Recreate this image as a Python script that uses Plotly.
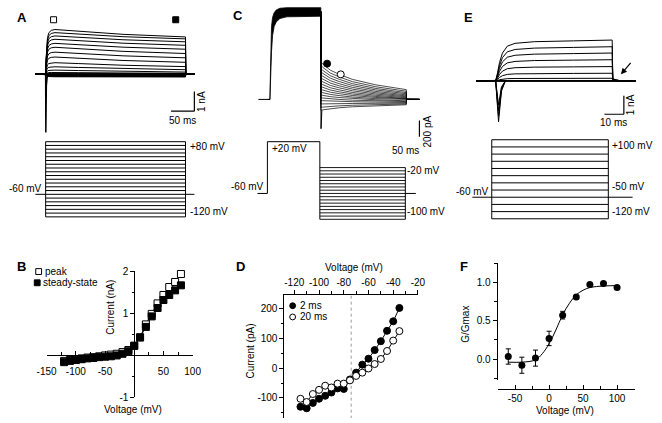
import plotly.graph_objects as go

W, H = 662, 423
FONT = "Liberation Sans, Arial, sans-serif"

# ---------------- A: current family, steps +80 ... -120 mV from -60 mV
a_steps_mv = list(range(80, -121, -10))
a_peak_na = [2.28, 2.12, 1.95, 1.78, 1.57, 1.37, 1.12, 0.87, 0.58, 0.37, 0.2,
             0.08, 0.03, 0.0, -0.02, -0.04, -0.06, -0.08, -0.1, -0.12, -0.14]
a_end_na = [1.9, 1.8, 1.65, 1.47, 1.27, 1.05, 0.83, 0.6, 0.38, 0.22, 0.1,
            0.04, 0.01, -0.01, -0.03, -0.05, -0.07, -0.09, -0.11, -0.13, -0.15]
a_rise_ms = [0, 1, 2, 4, 7, 12, 20]
a_rise_frac = [0, 0.35, 0.6, 0.82, 0.93, 0.98, 1.0]
a_decay_ms = [70, 166, 300]
a_decay_frac = [0.22, 0.65, 1.0]
a_spike_na = -3.0
a_step_ms = 300
a_span_ms = [-22, 319]
a_hold_mv = -60
a_mark_ms = [17, 279]
a_mark_na = 2.78

# ---------------- C: prepulse to +20 mV, tails -20 ... -100 mV
c_tail_mv = list(range(-20, -101, -5))
c_pre_ms = 100
c_tail_ms = 163
c_band_ms = [0, 3, 4, 5, 6, 8, 11, 15, 22, 35, 60, 100]
c_band_top_pa = [0, 0, 250, 500, 640, 720, 760, 785, 800, 805, 805, 805]
c_band_bot_pa = [0, 0, 60, 250, 420, 560, 640, 680, 710, 725, 730, 730]
c_plateau_pa = 770
c_tail_start_pa = [330, 300, 272, 245, 218, 192, 166, 140, 115, 90, 65, 40, 15,
                   -10, -40, -70, -95]
c_tail_end_pa = [86, 72, 60, 50, 40, 31, 23, 15, 8, 2, -5, -12, -19, -26, -33,
                 -40, -47]
c_decay_ms = [0, 3, 8, 18, 35, 60, 105, 163]
c_decay_frac = [1, 0.93, 0.85, 0.7, 0.55, 0.37, 0.17, 0]
c_spike_pa = -257
c_span_ms = [-19, 288]
c_pre_mv = 20
c_hold_mv = -60
c_mark_ms = [112, 138]
c_mark_pa = [314, 220]

# ---------------- E: steps +100 ... -120 mV (20 mV)
e_steps_mv = list(range(100, -121, -20))
e_amp_na = [2.2, 1.84, 1.5, 1.14, 0.77, 0.41, 0.14, 0.03, 0.0, -0.02, -0.03, -0.04]
e_tail_na = [0.12, 0.1, 0.08, 0.06, 0.04, 0.02, 0, 0, 0, 0, 0, 0]
e_rise_ms = [0, 1, 2, 3.5, 6, 10, 20, 40, 60]
e_rise_frac = [0, 0.2, 0.45, 0.68, 0.85, 0.92, 0.96, 0.98, 1.0]
e_spike_na = [-2.2, -1.9, -1.6, -1.3]
e_step_ms = 60
e_span_ms = [-10, 72]
e_hold_mv = -60

# ---------------- B: I-V, peak and steady-state
b_mv = list(range(-120, 81, 10))
b_peak_na = [-0.14, -0.12, -0.1, -0.08, -0.06, -0.05, -0.03, -0.01, 0.01, 0.03,
             0.07, 0.12, 0.22, 0.42, 0.73, 0.98, 1.23, 1.43, 1.62, 1.74, 1.93]
b_ss_na = [-0.17, -0.14, -0.12, -0.1, -0.08, -0.07, -0.05, -0.04, -0.03, -0.01,
           0.03, 0.09, 0.22, 0.42, 0.67, 0.92, 1.12, 1.31, 1.43, 1.54, 1.66]

# ---------------- D: tail I-V at 2 ms and 20 ms
d_mv = list(range(-115, -34, 5))
d_2ms_pa = [-130, -135, -117, -103, -93, -82, -68, -70, -38, -15, 12, 32, 61,
            91, 126, 158, 203]
d_20ms_pa = [-103, -114, -87, -73, -59, -65, -52, -52, -41, -26, -15, -1, 14,
             31, 58, 93, 125]
d_rev_mv = -74

# ---------------- F: conductance-voltage
f_mv = [-60, -40, -20, 0, 20, 40, 60, 80, 100]
f_g = [0.034, -0.08, 0.013, 0.27, 0.574, 0.81, 0.974, 0.987, 0.936]
f_err = [0.10, 0.105, 0.105, 0.094, 0.05, 0.02, 0.01, 0.01, 0.01]
f_fit_mv = [-60, -40, -20, -10, 0, 10, 20, 30, 40, 50, 60, 80, 100]
f_fit_g = [-0.04, -0.04, -0.01, 0.07, 0.2, 0.38, 0.58, 0.73, 0.84, 0.9, 0.935,
           0.955, 0.96]


def refs(n):
    s = "" if n == 1 else str(n)
    return "x" + s, "y" + s, "xaxis" + s, "yaxis" + s


fig = go.Figure()


def line(n, xs, ys, width=1.0, **kw):
    xr, yr, _, _ = refs(n)
    fig.add_trace(go.Scatter(x=xs, y=ys, xaxis=xr, yaxis=yr, mode="lines",
                             line=dict(color="black", width=width),
                             hoverinfo="skip", showlegend=False, **kw))


def markers(n, xs, ys, symbol, fill, size):
    xr, yr, _, _ = refs(n)
    fig.add_trace(go.Scatter(x=xs, y=ys, xaxis=xr, yaxis=yr, mode="markers",
                             marker=dict(symbol=symbol, size=size, color=fill,
                                         line=dict(color="black", width=1)),
                             cliponaxis=False, hoverinfo="skip", showlegend=False))


# ---- A traces
for pk, end in zip(a_peak_na, a_end_na):
    t = [a_span_ms[0]] + a_rise_ms + a_decay_ms + [a_step_ms + 0.5, a_span_ms[1]]
    i = ([0] + [pk * f for f in a_rise_frac]
         + [pk + (end - pk) * f for f in a_decay_frac] + [0, 0])
    line(1, t, i)
line(1, [0, 0.4, 1.5, 4], [0, a_spike_na, -0.6, 0], width=1.5)
line(1, a_span_ms, [0, 0], width=1.5)
markers(1, a_mark_ms, [a_mark_na] * 2, "square", ["white", "black"], 6)

# ---- A voltage protocol
for v in a_steps_mv:
    line(2, [0, a_step_ms], [v, v])
for t in (0, a_step_ms):
    line(2, [t, t], [min(a_steps_mv), max(a_steps_mv)])
line(2, [a_span_ms[0], 0, None, a_step_ms, a_span_ms[1]],
     [a_hold_mv, a_hold_mv, None, a_hold_mv, a_hold_mv])

# ---- C traces
line(3, [c_span_ms[0], c_band_ms[1]], [0, 0])
fig.add_trace(go.Scatter(x=c_band_ms + c_band_ms[::-1],
                         y=c_band_top_pa + c_band_bot_pa[::-1],
                         xaxis="x3", yaxis="y3", mode="lines", fill="toself",
                         fillcolor="black", line=dict(color="black", width=0.8),
                         hoverinfo="skip", showlegend=False))
c_end = c_pre_ms + c_tail_ms
for i0, i1 in zip(c_tail_start_pa, c_tail_end_pa):
    t = [c_pre_ms] + [c_pre_ms + d for d in c_decay_ms] + [c_end + 0.5, c_span_ms[1]]
    i = [c_plateau_pa] + [i1 + (i0 - i1) * f for f in c_decay_frac] + [0, 0]
    line(3, t, i, width=0.7)
line(3, [c_pre_ms, c_pre_ms + 0.4, c_pre_ms + 2],
     [c_plateau_pa, c_spike_pa, c_tail_start_pa[-1]])
markers(3, c_mark_ms, c_mark_pa, "circle", ["black", "white"], 7)

# ---- C voltage protocol
line(4, [c_span_ms[0], 0, 0, c_pre_ms, c_pre_ms],
     [c_hold_mv, c_hold_mv, c_pre_mv, c_pre_mv, min(c_tail_mv)])
for v in c_tail_mv:
    line(4, [c_pre_ms, c_end], [v, v], width=0.9)
line(4, [c_end, c_end], [min(c_tail_mv), max(c_tail_mv)])
line(4, [c_end, c_span_ms[1] - 5], [c_hold_mv, c_hold_mv])

# ---- E traces
for amp, tail in zip(e_amp_na, e_tail_na):
    t = [e_span_ms[0]] + e_rise_ms + [e_step_ms + 0.3, e_step_ms + 2,
                                      e_step_ms + 5, e_span_ms[1]]
    i = [0] + [amp * f for f in e_rise_frac] + [tail, tail * 0.4, 0, 0]
    line(5, t, i)
for s in e_spike_na:
    line(5, [0, 1.5, 3, 5], [0, s, s * 0.25, 0])
line(5, e_span_ms, [0, 0], width=1.5)

# ---- E voltage protocol
for v in e_steps_mv:
    line(6, [0, e_step_ms], [v, v])
for t in (0, e_step_ms):
    line(6, [t, t], [min(e_steps_mv), max(e_steps_mv)])
line(6, [e_span_ms[0], 0, None, e_step_ms, e_span_ms[1] + 0.5],
     [e_hold_mv, e_hold_mv, None, e_hold_mv, e_hold_mv])

# ---- B
line(7, b_mv, b_peak_na)
line(7, b_mv, b_ss_na)
markers(7, b_mv, b_peak_na, "square", "white", 7)
markers(7, b_mv, b_ss_na, "square", "black", 7)

# ---- D
fig.add_trace(go.Scatter(x=[d_rev_mv, d_rev_mv], y=[-170, 250], xaxis="x8",
                         yaxis="y8", mode="lines",
                         line=dict(color="#999999", width=1, dash="dot"),
                         hoverinfo="skip", showlegend=False))
line(8, d_mv, d_2ms_pa)
line(8, d_mv, d_20ms_pa)
markers(8, d_mv, d_2ms_pa, "circle", "black", 7)
markers(8, d_mv, d_20ms_pa, "circle", "white", 7)

# ---- F
line(9, f_fit_mv, f_fit_g, line_shape="spline")
fig.add_trace(go.Scatter(x=f_mv, y=f_g, xaxis="x9", yaxis="y9", mode="markers",
                         marker=dict(size=7, color="black"),
                         error_y=dict(type="data", array=f_err, color="black",
                                      thickness=1, width=2.5),
                         hoverinfo="skip", showlegend=False))

# ---------------- axes
# hidden axes for the recordings: (x px span, px of t=0, px/unit, y px span, px of 0, px/unit)
trace_axes = {
    1: ((15, 200), 36.7, 0.48, (5, 135), 70.7, 20),
    2: ((15, 200), 36.7, 0.48, (135, 222), 170.8, 0.385),
    3: ((250, 440), 266, 0.54, (0, 135), 96.7, 0.1167),
    4: ((250, 440), 265, 0.54, (135, 224), 153.25, 0.6625),
    5: ((470, 660), 500, 2.0, (25, 130), 77.7, 19),
    6: ((470, 660), 496, 2.0, (130, 224), 174.8, 0.368),
}


def xdom(p0, p1):
    return [p0 / W, p1 / W]


def ydom(p0, p1):
    return [1 - p1 / H, 1 - p0 / H]


layout_axes = {}
for n, (xs, x0, sx, ys, y0, sy) in trace_axes.items():
    xr, yr, xk, yk = refs(n)
    layout_axes[xk] = dict(domain=xdom(*xs), range=[(xs[0] - x0) / sx, (xs[1] - x0) / sx],
                           visible=False, anchor=yr)
    layout_axes[yk] = dict(domain=ydom(*ys), range=[(y0 - ys[1]) / sy, (y0 - ys[0]) / sy],
                           visible=False, anchor=xr)

style = dict(showline=True, linecolor="black", linewidth=1, ticks="outside",
             ticklen=4, tickwidth=1, tickcolor="black", showgrid=False,
             zeroline=False, tickmode="array",
             tickfont=dict(family=FONT, size=10, color="black"))


def minor(vals, ticks="outside"):
    return dict(tickmode="array", tickvals=vals, ticks=ticks, ticklen=2.5,
                tickcolor="black", showgrid=False)


layout_axes["xaxis7"] = dict(style, domain=xdom(37.7, 188), range=[-150, 100],
                             anchor="free", position=1 - 358 / H, ticks="inside",
                             ticklabelstandoff=7,
                             tickvals=[-150, -100, -50, 0, 50, 100],
                             ticktext=["-150", "-100", "-50", "", "50", "100"],
                             minor=minor([-125, -75, -25, 25, 75], "inside"))
layout_axes["yaxis7"] = dict(style, domain=ydom(272.5, 401.5), range=[-1, 2],
                             anchor="free", position=128 / W,
                             tickvals=[-1, 0, 1, 2], ticktext=["-1", "", "1", "2"],
                             minor=minor([-0.5, 0.5, 1.5]))
layout_axes["xaxis8"] = dict(style, domain=xdom(282.5, 420), range=[-128, -20],
                             anchor="y8", side="top",
                             tickvals=list(range(-120, -19, 20)),
                             ticktext=[str(v) for v in range(-120, -19, 20)],
                             minor=minor(list(range(-110, -29, 20))))
layout_axes["yaxis8"] = dict(style, domain=ydom(297, 423), range=[-167.8, 246.7],
                             anchor="x8", tickvals=[-100, 0, 100, 200],
                             ticktext=["-100", "0", "100", "200"],
                             minor=minor([-150, -50, 50, 150]))
layout_axes["xaxis9"] = dict(style, domain=xdom(502, 643), range=[-75.7, 125.7],
                             anchor="free", position=1 - 393 / H, ticks="inside",
                             tickvals=[-50, 0, 50, 100],
                             ticktext=["-50", "0", "50", "100"],
                             minor=minor([-75, -25, 25, 75, 125], "inside"))
layout_axes["yaxis9"] = dict(style, domain=ydom(264, 384), range=[-0.272, 1.259],
                             anchor="x9", tickvals=[0, 0.5, 1.0],
                             ticktext=["0.0", "0.5", "1.0"],
                             minor=minor([-0.25, 0.25, 0.75, 1.25]))


# ---------------- text
def label(text, x, y, anchor="center", size=10, angle=0):
    return dict(text=text, x=x / W, y=1 - y / H, xref="paper", yref="paper",
                xanchor=anchor, yanchor="middle", showarrow=False,
                textangle=angle, font=dict(family=FONT, size=size, color="black"))


notes = [
    label("<b>A</b>", 12, 13, size=13), label("<b>C</b>", 235, 11, size=13),
    label("<b>E</b>", 472, 13, size=13), label("<b>B</b>", 12, 268, size=13),
    label("<b>D</b>", 237, 268, size=13), label("<b>F</b>", 467, 268, size=13),
    label("+80 mV", 183, 145, "left"), label("-120 mV", 183, 212, "left"),
    label("-60 mV", 35, 188, "right"),
    label("+20 mV", 268, 147, "left"), label("-60 mV", 264, 186, "right"),
    label("-20 mV", 407, 170, "left"), label("-100 mV", 407, 212, "left"),
    label("+100 mV", 618, 144, "left"), label("-50 mV", 618, 186, "left"),
    label("-120 mV", 618, 212, "left"), label("-60 mV", 495, 191, "right"),
    label("1 nA", 197, 99, angle=-90), label("50 ms", 178, 118),
    label("200 pA", 430, 130, angle=-90), label("50 ms", 407, 149),
    label("1 nA", 639, 102, angle=-90), label("10 ms", 621, 120),
    label("Current (nA)", 104, 310, angle=-90), label("Voltage (mV)", 127, 414),
    label("Voltage (mV)", 354, 269), label("Current (pA)", 248, 354, angle=-90),
    label("G/Gmax", 469, 327, angle=-90), label("Voltage (mV)", 571, 415),
    label("peak", 34, 273, "left"), label("steady-state", 32, 284.5, "left"),
    label("2 ms", 296, 308, "left"), label("20 ms", 296, 319.5, "left"),
    dict(x=64.5, y=0.35, xref="x5", yref="y5", ax=11, ay=-13, text="",
         showarrow=True, arrowhead=2, arrowsize=1, arrowwidth=1.2,
         arrowcolor="black"),
]


def symbol(kind, x, y, r, fill):
    return dict(type=kind, xref="paper", yref="paper", x0=(x - r) / W,
                x1=(x + r) / W, y0=1 - (y + r) / H, y1=1 - (y - r) / H,
                line=dict(color="black", width=1), fillcolor=fill)


def bar(n, t0, i0, dt, di):
    xr, yr, _, _ = refs(n)
    return [dict(type="line", xref=xr, yref=yr, x0=t0 - dt, x1=t0, y0=i0, y1=i0,
                 line=dict(color="black", width=1.2)),
            dict(type="line", xref=xr, yref=yr, x0=t0, x1=t0, y0=i0, y1=i0 + di,
                 line=dict(color="black", width=1.2))]


shapes = (bar(1, 319, -1.9, 50, 1) + bar(3, 288, -386, 50, 200)
          + bar(5, 66, -1.8, 10, 1)
          + [symbol("rect", 29.5, 273, 3, "white"), symbol("rect", 28, 284.5, 3, "black"),
             symbol("circle", 291, 308, 3, "black"), symbol("circle", 291, 319.5, 3, "white")])

fig.update_layout(width=W, height=H, margin=dict(l=0, r=0, t=0, b=0),
                  paper_bgcolor="white", plot_bgcolor="white",
                  annotations=notes, shapes=shapes, **layout_axes)
fig.write_html("out.html", config={"displayModeBar": False},
               post_script="document.body.style.margin='0px';")
